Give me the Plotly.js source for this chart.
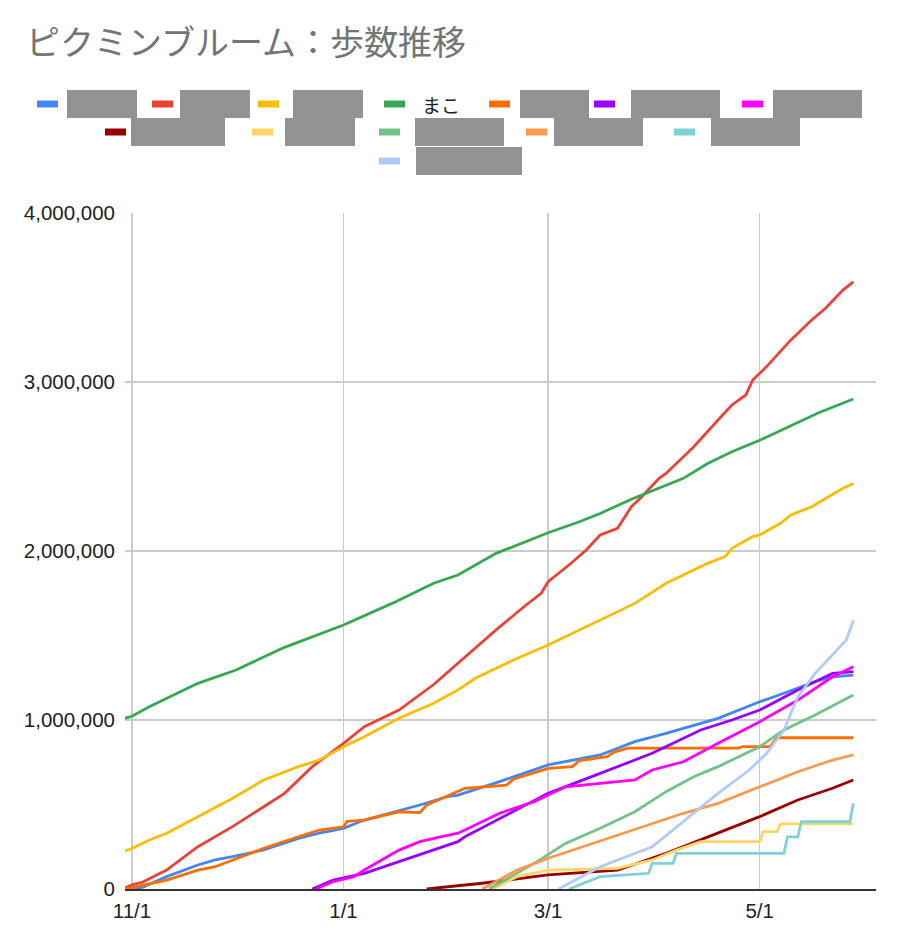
<!DOCTYPE html>
<html>
<head>
<meta charset="utf-8">
<script src="https://cdn.plot.ly/plotly-3.0.1.min.js"></script>
<style>
  html, body { margin: 0; padding: 0; background: #fff; }
  #chart { width: 924px; height: 934px; }
</style>
</head>
<body>
<div id="chart"></div>
<script>
/* ============================================================
   ピクミンブルーム：歩数推移 — 累積歩数（13人）
   値はグラフから目視で読んだもの。名前は元画像で伏せられている。
   ============================================================ */

/* ---- 系列名（伏せ字の人は仮名） ---- */
var seriesNames = ['A', 'B', 'C', 'まこ', 'E', 'F', 'G', 'H', 'I', 'J', 'K', 'L', 'M'];

/* ---- 各系列: 日付と累積歩数 ---- */
var blueDates  = ['2021-10-30','2021-11-01','2021-11-04','2021-11-11','2021-11-20','2021-11-25','2021-11-30','2021-12-09','2021-12-19','2021-12-25','2022-01-01','2022-01-07','2022-01-17','2022-01-23','2022-01-31','2022-02-03','2022-02-15','2022-03-01','2022-03-16','2022-03-26','2022-04-04','2022-04-19','2022-05-01','2022-05-08','2022-05-17','2022-05-22','2022-05-28'];
var blueSteps  = [0, 3000, 10000, 73000, 142000, 172000, 191000, 231000, 300000, 330000, 359000, 408000, 462000, 497000, 546000, 556000, 635000, 734000, 793000, 872000, 921000, 1010000, 1108000, 1158000, 1227000, 1256000, 1266000];

var redDates   = ['2021-10-30','2021-11-01','2021-11-04','2021-11-11','2021-11-20','2021-11-30','2021-12-09','2021-12-15','2021-12-23','2022-01-01','2022-01-07','2022-01-17','2022-01-27','2022-02-04','2022-02-14','2022-02-22','2022-02-27','2022-03-01','2022-03-07','2022-03-12','2022-03-16','2022-03-21','2022-03-25','2022-03-28','2022-04-02','2022-04-04','2022-04-08','2022-04-12','2022-04-19','2022-04-23','2022-04-27','2022-04-29','2022-05-03','2022-05-10','2022-05-16','2022-05-20','2022-05-25','2022-05-28'];
var redSteps   = [5000, 25000, 40000, 112000, 250000, 369000, 487000, 566000, 724000, 862000, 960000, 1059000, 1210000, 1355000, 1533000, 1670000, 1750000, 1818000, 1917000, 2006000, 2095000, 2134000, 2262000, 2321000, 2430000, 2459000, 2538000, 2617000, 2775000, 2864000, 2923000, 3012000, 3091000, 3249000, 3367000, 3436000, 3544000, 3593000];

var yellowDates = ['2021-10-30','2021-11-01','2021-11-06','2021-11-11','2021-11-20','2021-11-30','2021-12-09','2021-12-19','2021-12-25','2022-01-01','2022-01-07','2022-01-17','2022-01-27','2022-02-03','2022-02-08','2022-02-19','2022-03-01','2022-03-10','2022-03-16','2022-03-26','2022-04-04','2022-04-09','2022-04-16','2022-04-21','2022-04-23','2022-04-29','2022-05-01','2022-05-07','2022-05-10','2022-05-16','2022-05-25','2022-05-28'];
var yellowSteps = [225000, 240000, 290000, 330000, 427000, 537000, 645000, 724000, 763000, 842000, 901000, 1010000, 1099000, 1178000, 1247000, 1355000, 1444000, 1533000, 1592000, 1690000, 1809000, 1858000, 1927000, 1967000, 2016000, 2085000, 2095000, 2164000, 2213000, 2262000, 2371000, 2400000];

var greenDates = ['2021-10-30','2021-11-01','2021-11-06','2021-11-15','2021-11-20','2021-12-01','2021-12-15','2022-01-01','2022-01-15','2022-01-27','2022-02-03','2022-02-14','2022-02-24','2022-03-01','2022-03-10','2022-03-16','2022-03-25','2022-03-28','2022-04-09','2022-04-16','2022-04-23','2022-05-01','2022-05-18','2022-05-28'];
var greenSteps = [1010000, 1022000, 1078000, 1167000, 1217000, 1296000, 1430000, 1562000, 1690000, 1809000, 1858000, 1986000, 2065000, 2108000, 2173000, 2222000, 2306000, 2331000, 2430000, 2518000, 2587000, 2655000, 2818000, 2899000];

var orangeDates = ['2021-10-30','2021-11-01','2021-11-11','2021-11-20','2021-11-25','2021-11-30','2021-12-09','2021-12-19','2021-12-25','2022-01-01','2022-01-02','2022-01-07','2022-01-17','2022-01-23','2022-01-25','2022-02-05','2022-02-17','2022-02-19','2022-03-01','2022-03-08','2022-03-10','2022-03-18','2022-03-20','2022-03-24','2022-04-25','2022-04-26','2022-05-04','2022-05-06','2022-05-28'];
var orangeSteps = [0, 8000, 53000, 112000, 132000, 172000, 241000, 309000, 349000, 368000, 400000, 408000, 457000, 452000, 497000, 596000, 615000, 650000, 714000, 724000, 760000, 783000, 810000, 833000, 833000, 843000, 843000, 895000, 895000];

var purpleDates = ['2021-12-23','2021-12-29','2022-01-07','2022-01-17','2022-01-27','2022-02-03','2022-02-05','2022-03-01','2022-03-16','2022-03-31','2022-04-14','2022-04-23','2022-05-01','2022-05-12','2022-05-22','2022-05-28'];
var purpleSteps = [0, 53000, 93000, 161000, 231000, 280000, 309000, 566000, 684000, 803000, 941000, 1000000, 1059000, 1178000, 1276000, 1286000];

var magentaDates = ['2021-12-24','2021-12-29','2022-01-04','2022-01-07','2022-01-17','2022-01-23','2022-01-27','2022-02-03','2022-02-05','2022-02-15','2022-02-25','2022-03-06','2022-03-16','2022-03-26','2022-03-31','2022-04-09','2022-04-19','2022-05-01','2022-05-12','2022-05-22','2022-05-28'];
var magentaSteps = [0, 43000, 73000, 112000, 230000, 280000, 300000, 330000, 349000, 448000, 517000, 605000, 625000, 645000, 704000, 753000, 862000, 990000, 1118000, 1256000, 1315000];

var darkRedDates = ['2022-01-25','2022-02-10','2022-03-01','2022-03-21','2022-04-04','2022-04-19','2022-05-01','2022-05-12','2022-05-22','2022-05-28'];
var darkRedSteps = [0, 34000, 83000, 112000, 211000, 330000, 428000, 527000, 596000, 645000];

var lightYellowDates = ['2022-02-13','2022-02-20','2022-03-01','2022-03-21','2022-03-31','2022-04-07','2022-04-14','2022-05-01','2022-05-02','2022-05-06','2022-05-07','2022-05-28'];
var lightYellowSteps = [0, 73000, 112000, 122000, 172000, 231000, 280000, 280000, 339000, 339000, 385000, 385000];

var lightGreenDates = ['2022-02-12','2022-02-25','2022-03-06','2022-03-16','2022-03-26','2022-04-04','2022-04-12','2022-04-19','2022-05-01','2022-05-08','2022-05-17','2022-05-28'];
var lightGreenSteps = [0, 152000, 270000, 359000, 457000, 576000, 664000, 724000, 842000, 941000, 1030000, 1148000];

var lightOrangeDates = ['2022-02-10','2022-02-20','2022-03-01','2022-03-11','2022-03-26','2022-04-09','2022-04-19','2022-05-01','2022-05-12','2022-05-22','2022-05-28'];
var lightOrangeSteps = [0, 112000, 182000, 250000, 349000, 448000, 507000, 605000, 694000, 763000, 793000];

var tealDates = ['2022-03-07','2022-03-16','2022-03-30','2022-03-31','2022-04-06','2022-04-07','2022-05-08','2022-05-09','2022-05-12','2022-05-13','2022-05-27','2022-05-28'];
var tealSteps = [0, 73000, 93000, 152000, 152000, 211000, 211000, 309000, 309000, 398000, 398000, 507000];

var lightBlueDates = ['2022-03-04','2022-03-16','2022-03-31','2022-04-09','2022-04-19','2022-04-28','2022-05-03','2022-05-08','2022-05-12','2022-05-17','2022-05-26','2022-05-28'];
var lightBlueSteps = [0, 132000, 250000, 398000, 566000, 704000, 803000, 941000, 1138000, 1276000, 1473000, 1590000];

/* ---- 軸 ---- */
var xRange = ['2021-10-30', '2022-06-03 13:00'];
var yRange = [0, 4000000];

(function () {
  if (typeof Plotly === 'undefined') return;

  /* ---- パレット（Google スプレッドシート風） ---- */
  var COL = {
    blue: '#4285f4', red: '#ea4335', yellow: '#fbbc04', green: '#34a853',
    orange: '#ff6d01', purple: '#9900ff', magenta: '#ff00ff', darkRed: '#990000',
    lightYellow: '#ffd666', lightGreen: '#72c28a', lightOrange: '#ff994d',
    teal: '#7ed1d7', lightBlue: '#aecbfa',
    grid: '#cccccc', text: '#222222', title: '#757575', redact: '#939393'
  };

  var series = [
    [blueDates, blueSteps, COL.blue],
    [redDates, redSteps, COL.red],
    [yellowDates, yellowSteps, COL.yellow],
    [greenDates, greenSteps, COL.green],
    [orangeDates, orangeSteps, COL.orange],
    [purpleDates, purpleSteps, COL.purple],
    [magentaDates, magentaSteps, COL.magenta],
    [darkRedDates, darkRedSteps, COL.darkRed],
    [lightYellowDates, lightYellowSteps, COL.lightYellow],
    [lightGreenDates, lightGreenSteps, COL.lightGreen],
    [lightOrangeDates, lightOrangeSteps, COL.lightOrange],
    [tealDates, tealSteps, COL.teal],
    [lightBlueDates, lightBlueSteps, COL.lightBlue]
  ];

  var traces = series.map(function (s, i) {
    return {
      type: 'scatter', mode: 'lines',
      name: seriesNames[i],
      x: s[0], y: s[1],
      line: { color: s[2], width: 2.8 },
      hovertemplate: '<b>%{fullData.name}</b><br>%{x|%-m/%-d}: %{y:,d}<extra></extra>'
    };
  });

  /* ---- プロット領域（px） ---- */
  var W = 924, H = 934;
  var M = { l: 125, r: 48, t: 213, b: 45 };
  var PW = W - M.l - M.r, PH = H - M.t - M.b;
  function px(x) { return (x - M.l) / PW; }
  function py(y) { return (H - M.b - y) / PH; }

  /* ---- 手組みの凡例: [色, 見本の左端, 中心y, 伏せ字の箱 x0, x1] ---- */
  var legendItems = [
    [COL.blue,        37, 104,  67, 137],
    [COL.red,        152, 104, 180, 250],
    [COL.yellow,     258, 104, 293, 363],
    [COL.green,      384, 104, null, null],
    [COL.orange,     489, 104, 520, 589],
    [COL.purple,     594, 104, 631, 720],
    [COL.magenta,    742, 104, 773, 862],
    [COL.darkRed,    105, 132, 131, 225],
    [COL.lightYellow,252, 132, 285, 355],
    [COL.lightGreen, 379, 132, 415, 504],
    [COL.lightOrange,526, 132, 554, 643],
    [COL.teal,       674, 132, 711, 800],
    [COL.lightBlue,  379, 161, 416, 522]
  ];

  var shapes = [];
  legendItems.forEach(function (it) {
    shapes.push({
      type: 'rect', xref: 'paper', yref: 'paper',
      x0: px(it[1]), x1: px(it[1] + 21), y0: py(it[2] + 3.5), y1: py(it[2] - 3.5),
      fillcolor: it[0], line: { width: 0 }
    });
    if (it[3] !== null) {
      shapes.push({
        type: 'rect', xref: 'paper', yref: 'paper',
        x0: px(it[3]), x1: px(it[4]), y0: py(it[2] + 14), y1: py(it[2] - 14),
        fillcolor: COL.redact, line: { width: 0 }
      });
    }
  });

  var tickFont = { family: 'Liberation Sans, Arial, sans-serif', size: 20.5, color: COL.text };

  Plotly.newPlot('chart', traces, {
    width: W, height: H, autosize: false,
    paper_bgcolor: '#ffffff', plot_bgcolor: '#ffffff',
    margin: M,
    showlegend: false,
    title: {
      text: 'ピクミンブルーム：歩数推移',
      x: 26 / W, xref: 'container', xanchor: 'left',
      y: 1 - 43 / H, yref: 'container', yanchor: 'middle',
      font: { family: 'Noto Sans CJK JP, sans-serif', size: 34, color: COL.title }
    },
    xaxis: {
      type: 'date', range: xRange,
      tick0: '2021-11-01', dtick: 'M2', tickformat: '%-m/%-d',
      showgrid: true, gridcolor: COL.grid, gridwidth: 1.3,
      showline: true, linecolor: '#333333', linewidth: 2,
      zeroline: false, ticks: '', ticklabelstandoff: 2,
      tickfont: tickFont, fixedrange: true
    },
    yaxis: {
      range: yRange, dtick: 1000000, tickformat: ',d',
      showgrid: true, gridcolor: COL.grid, gridwidth: 1.3,
      zeroline: false, ticks: '', ticklabelstandoff: 9,
      tickfont: tickFont, fixedrange: true
    },
    shapes: shapes,
    annotations: [{
      text: 'まこ', xref: 'paper', yref: 'paper',
      x: px(420), y: py(104), xanchor: 'left', yanchor: 'middle',
      showarrow: false,
      font: { family: 'Noto Sans CJK JP, sans-serif', size: 19, color: COL.text }
    }]
  }, { displayModeBar: false, staticPlot: true });
})();
</script>
</body>
</html>
